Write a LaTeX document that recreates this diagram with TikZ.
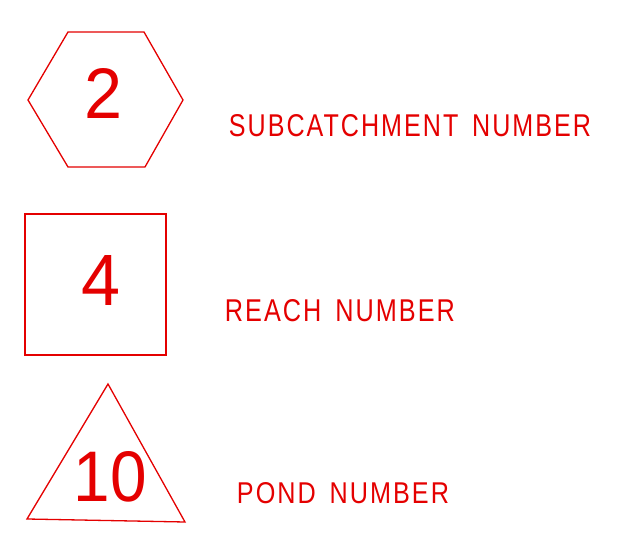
\documentclass[tikz,border=0pt]{standalone}
\usepackage{fontspec}
\setmainfont{Liberation Sans}
\newfontfamily\cadfont[LetterSpace=8]{Liberation Sans}
\usepackage{graphicx}
\definecolor{cadred}{RGB}{228,0,0}
\newcommand{\cadtext}[3]{\resizebox{#1}{#2}{\fontsize{29}{29}\cadfont #3}}
\begin{document}
\begin{tikzpicture}[x=1pt,y=-1pt,
  outline/.style={draw=cadred,line width=1.3pt,line join=miter},
  lbl/.style={text=cadred,inner sep=0pt,anchor=center}]
\useasboundingbox (0,0) rectangle (624,553);
% hexagon
\draw[outline] (28,100) -- (68,32) -- (144,32) -- (183,100) -- (145,167) -- (68,167) -- cycle;
\node[lbl] (n2) at (104,93) {\resizebox{38pt}{50pt}{2}};
\node[lbl] (sub) at (410,125.5) {\cadtext{362pt}{22pt}{SUBCATCHMENT\hspace{0.55em}NUMBER}};
% square
\draw[outline] (25,214) rectangle (166,355);
\node[lbl] (n4) at (101,280) {\resizebox{39pt}{50pt}{4}};
\node[lbl] (reach) at (340,311) {\cadtext{230pt}{22pt}{REACH\hspace{0.55em}NUMBER}};
% triangle
\draw[outline] (108,384) -- (185,522) -- (27,519) -- cycle;
\node[lbl] (n10) at (110.5,477) {\resizebox{73pt}{50pt}{10}};
\node[lbl] (pond) at (343,493.5) {\cadtext{212pt}{21pt}{POND\hspace{0.55em}NUMBER}};
\end{tikzpicture}
\end{document}
